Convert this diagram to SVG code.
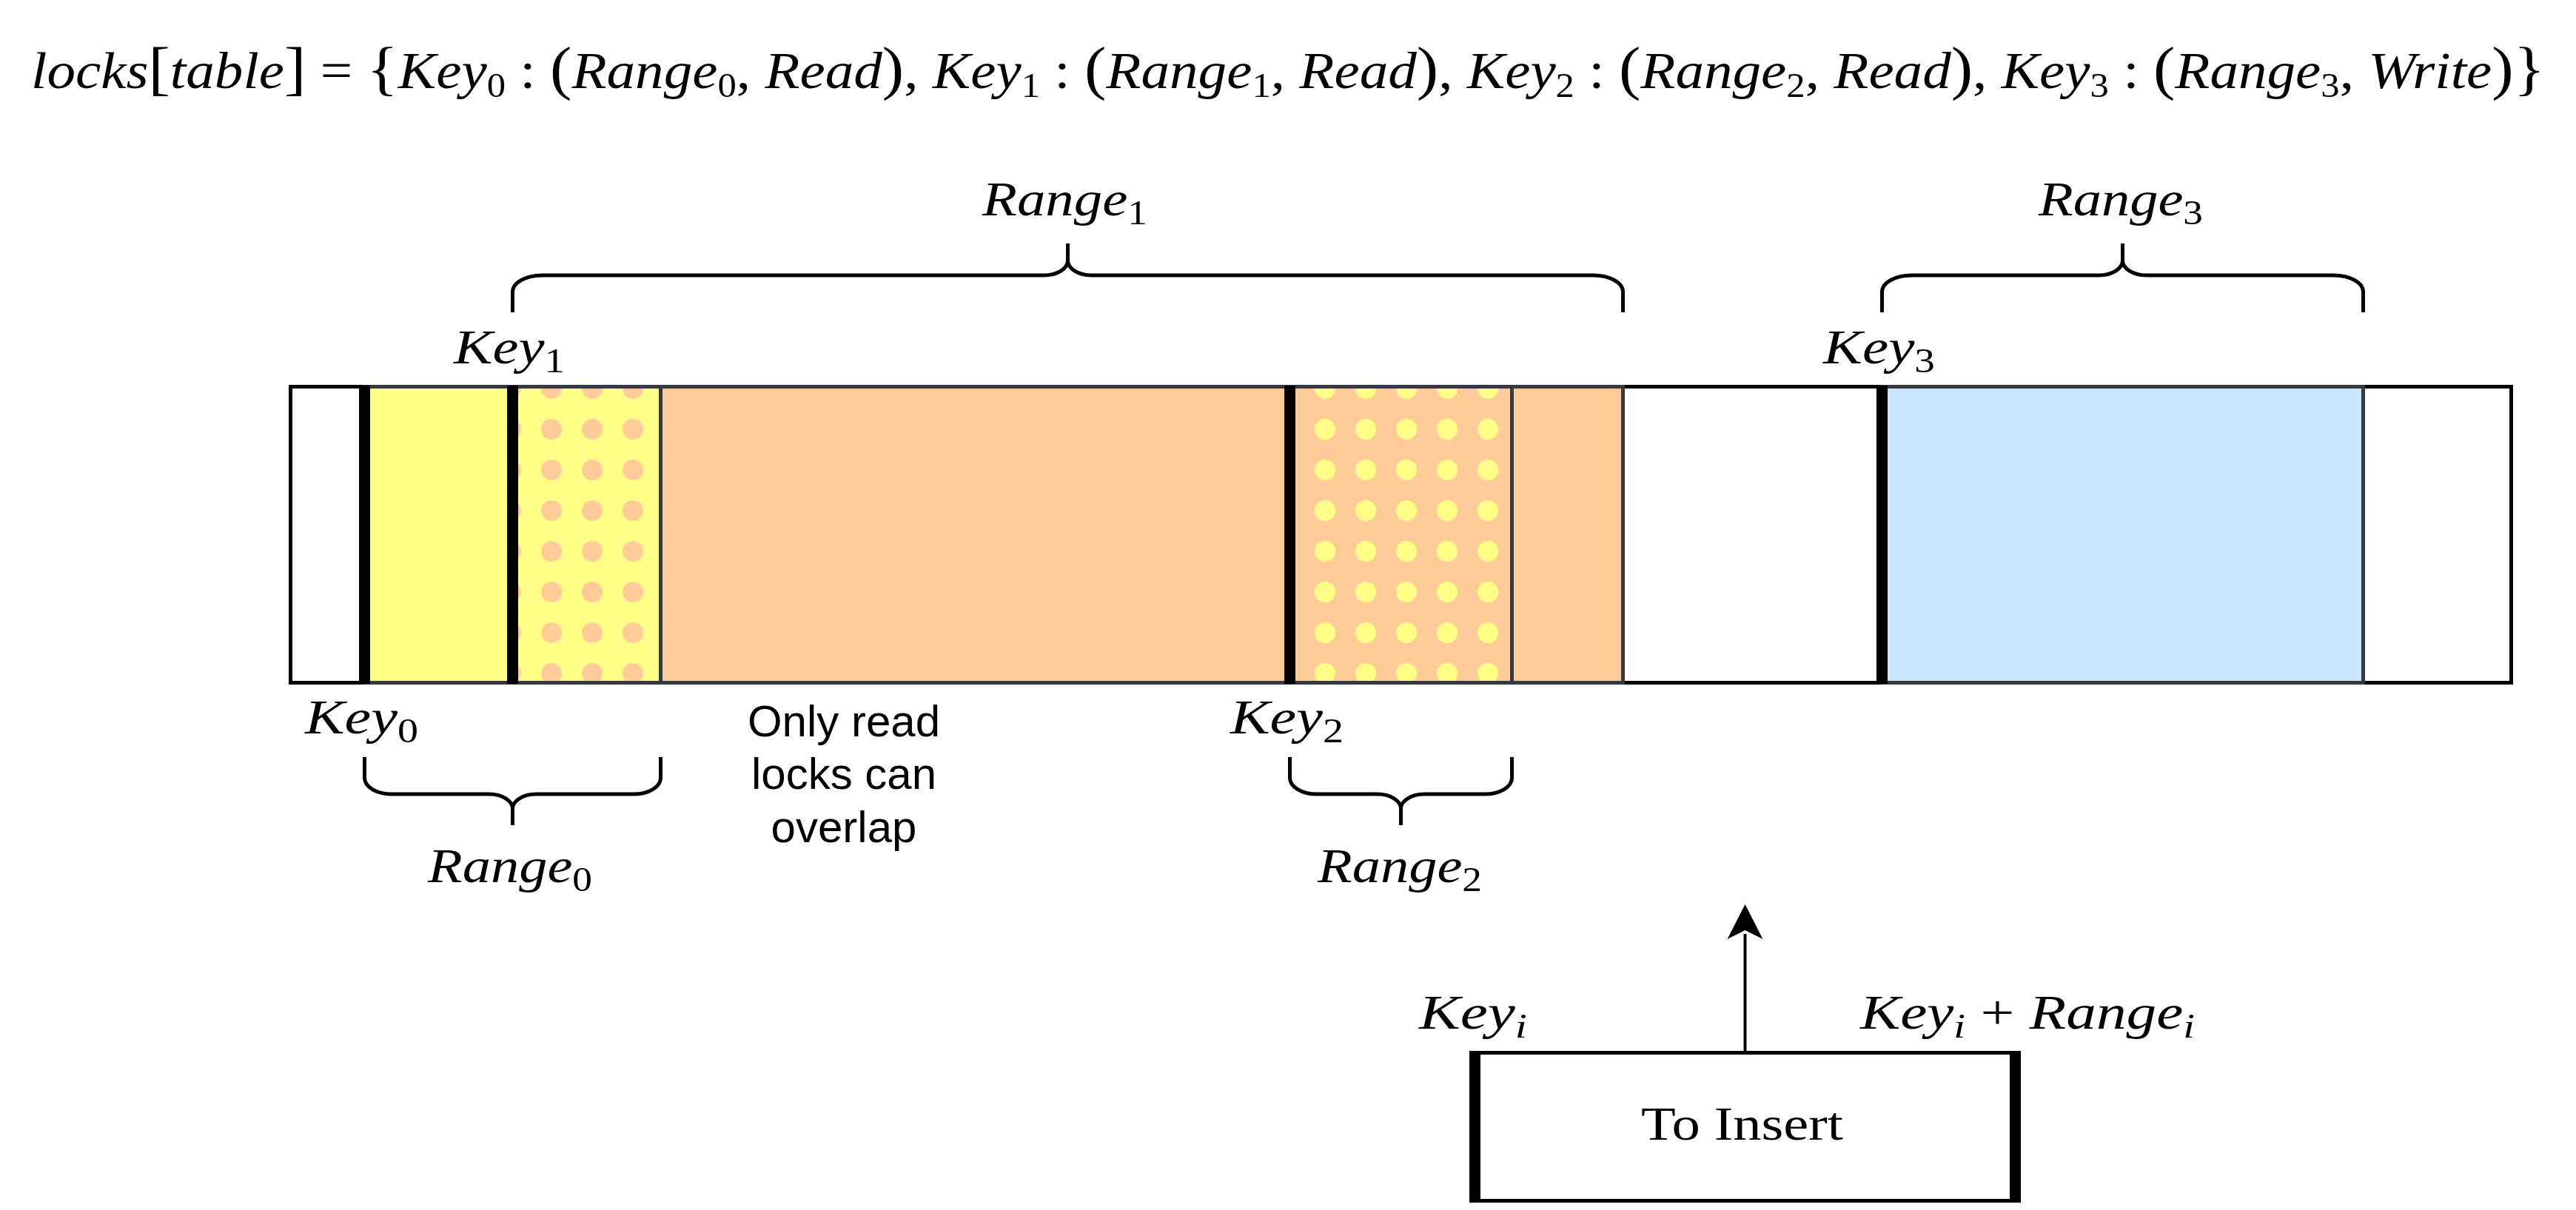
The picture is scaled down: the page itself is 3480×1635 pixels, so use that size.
<svg xmlns="http://www.w3.org/2000/svg" width="3480" height="1635" viewBox="0 0 3480 1635">
<style>
.m{font-family:"Liberation Serif","DejaVu Serif",serif;font-style:italic;font-size:66px;fill:#000}
.t{font-size:70px}
.u{font-style:normal}
.b{font-style:normal;font-size:80px}
.s{font-style:normal;font-size:46px}
.si{font-style:italic;font-size:46px}
.rm{font-family:"Liberation Serif","DejaVu Serif",serif;font-size:64px;fill:#000}
.sans{font-family:"Liberation Sans",Arial,sans-serif;font-size:60px;fill:#000}
.brace{fill:none;stroke:#000;stroke-width:5;stroke-linecap:butt;stroke-linejoin:round}
.seg{stroke:#36393d;stroke-width:5}
.bar{fill:#000}
</style>
<defs>
<pattern id="dotsOrange" x="662.5" y="497.5" width="55" height="55" patternUnits="userSpaceOnUse"><circle cx="27.5" cy="27.5" r="14" fill="#FFCC99"/></pattern>
<pattern id="dotsYellow" x="1707.5" y="497.5" width="55" height="55" patternUnits="userSpaceOnUse"><circle cx="27.5" cy="27.5" r="14" fill="#FFFF88"/></pattern>
</defs>
<rect width="3480" height="1635" fill="#fff"/>

<g id="title">
<text x="42" y="119" class="m t" textLength="3396" lengthAdjust="spacingAndGlyphs">locks<tspan class="b">[</tspan>table<tspan class="b">]</tspan><tspan class="u"> = </tspan><tspan class="b">{</tspan>Key<tspan class="s" dy="12">0</tspan><tspan class="u" dy="-12"> : </tspan><tspan class="b">(</tspan>Range<tspan class="s" dy="12">0</tspan><tspan class="u" dy="-12">, </tspan>Read<tspan class="b">)</tspan><tspan class="u">, </tspan>Key<tspan class="s" dy="12">1</tspan><tspan class="u" dy="-12"> : </tspan><tspan class="b">(</tspan>Range<tspan class="s" dy="12">1</tspan><tspan class="u" dy="-12">, </tspan>Read<tspan class="b">)</tspan><tspan class="u">, </tspan>Key<tspan class="s" dy="12">2</tspan><tspan class="u" dy="-12"> : </tspan><tspan class="b">(</tspan>Range<tspan class="s" dy="12">2</tspan><tspan class="u" dy="-12">, </tspan>Read<tspan class="b">)</tspan><tspan class="u">, </tspan>Key<tspan class="s" dy="12">3</tspan><tspan class="u" dy="-12"> : </tspan><tspan class="b">(</tspan>Range<tspan class="s" dy="12">3</tspan><tspan class="u" dy="-12">, </tspan>Write<tspan class="b">)}</tspan></text>
</g>

<g id="keyspace">
<rect x="392.5" y="522.5" width="3000" height="400" fill="#fff" stroke="#000" stroke-width="5"/>
<rect x="692.5" y="522.5" width="1500" height="400" fill="#FFCC99" class="seg"/>
<rect x="492.5" y="522.5" width="400" height="400" fill="#FFFF88" class="seg"/>
<rect x="692.5" y="522.5" width="200" height="400" fill="url(#dotsOrange)" class="seg"/>
<rect x="1742.5" y="522.5" width="300" height="400" fill="url(#dotsYellow)" class="seg"/>
<rect x="2542.5" y="522.5" width="650" height="400" fill="#CCE5FF" class="seg"/>
<rect x="485" y="521" width="15" height="403" class="bar"/>
<rect x="685" y="521" width="15" height="403" class="bar"/>
<rect x="1735" y="521" width="15" height="403" class="bar"/>
<rect x="2535" y="521" width="15" height="403" class="bar"/>
</g>

<g id="key0"><text x="412" y="991" class="m" textLength="153" lengthAdjust="spacingAndGlyphs">Key<tspan class="s" dy="12">0</tspan></text></g>
<g id="key1"><text x="613" y="491" class="m" textLength="150" lengthAdjust="spacingAndGlyphs">Key<tspan class="s" dy="12">1</tspan></text></g>
<g id="key2"><text x="1662" y="991" class="m" textLength="153" lengthAdjust="spacingAndGlyphs">Key<tspan class="s" dy="12">2</tspan></text></g>
<g id="key3"><text x="2463" y="491" class="m" textLength="151" lengthAdjust="spacingAndGlyphs">Key<tspan class="s" dy="12">3</tspan></text></g>

<g id="range1">
<path class="brace" d="M692.5,422 V394 A40,22 0 0 1 732.5,372 H1410.5 A32,20 0 0 0 1442.5,352 V329 M1442.5,352 A32,20 0 0 0 1474.5,372 H2152.5 A40,22 0 0 1 2192.5,394 V422"/>
<text x="1327" y="291" class="m" textLength="223" lengthAdjust="spacingAndGlyphs">Range<tspan class="s" dy="12">1</tspan></text>
</g>
<g id="range3">
<path class="brace" d="M2542.5,422 V394 A40,22 0 0 1 2582.5,372 H2835.5 A32,20 0 0 0 2867.5,352 V329 M2867.5,352 A32,20 0 0 0 2899.5,372 H3152.5 A40,22 0 0 1 3192.5,394 V422"/>
<text x="2754" y="291" class="m" textLength="222" lengthAdjust="spacingAndGlyphs">Range<tspan class="s" dy="12">3</tspan></text>
</g>
<g id="range0">
<path class="brace" d="M492.5,1023 V1051 A36,22 0 0 0 528.5,1073 H660.5 A32,20 0 0 1 692.5,1093 V1115 M692.5,1093 A32,20 0 0 1 724.5,1073 H856.5 A36,22 0 0 0 892.5,1051 V1023"/>
<text x="578" y="1192" class="m" textLength="222" lengthAdjust="spacingAndGlyphs">Range<tspan class="s" dy="12">0</tspan></text>
</g>
<g id="range2">
<path class="brace" d="M1742.5,1023 V1051 A36,22 0 0 0 1778.5,1073 H1860.5 A32,20 0 0 1 1892.5,1093 V1115 M1892.5,1093 A32,20 0 0 1 1924.5,1073 H2006.5 A36,22 0 0 0 2042.5,1051 V1023"/>
<text x="1780" y="1192" class="m" textLength="222" lengthAdjust="spacingAndGlyphs">Range<tspan class="s" dy="12">2</tspan></text>
</g>

<g id="note">
<text class="sans" text-anchor="middle"><tspan x="1140" y="995">Only read</tspan><tspan x="1140" y="1066">locks can</tspan><tspan x="1140" y="1138">overlap</tspan></text>
</g>

<g id="to-insert">
<rect x="1992.5" y="1422.5" width="730" height="200" fill="#fff" stroke="#000" stroke-width="5"/>
<rect x="1985" y="1420" width="15" height="205" class="bar"/>
<rect x="2715" y="1420" width="15" height="205" class="bar"/>
<text x="2217" y="1540" class="rm" textLength="273" lengthAdjust="spacingAndGlyphs">To Insert</text>
</g>
<g id="keyi"><text x="1917" y="1390" class="m" textLength="146" lengthAdjust="spacingAndGlyphs">Key<tspan class="si" dy="12">i</tspan></text></g>
<g id="keyi-range"><text x="2513" y="1390" class="m" textLength="452" lengthAdjust="spacingAndGlyphs">Key<tspan class="si" dy="12">i</tspan><tspan class="u" dy="-12"> + </tspan>Range<tspan class="si" dy="12">i</tspan></text></g>

<g id="connectors">
<line x1="2357.5" y1="1420" x2="2357.5" y2="1262" stroke="#000" stroke-width="4"/>
<path d="M2357.5,1222 L2381.5,1269 L2357.5,1257 L2333.5,1269 Z" fill="#000"/>
</g>
</svg>
